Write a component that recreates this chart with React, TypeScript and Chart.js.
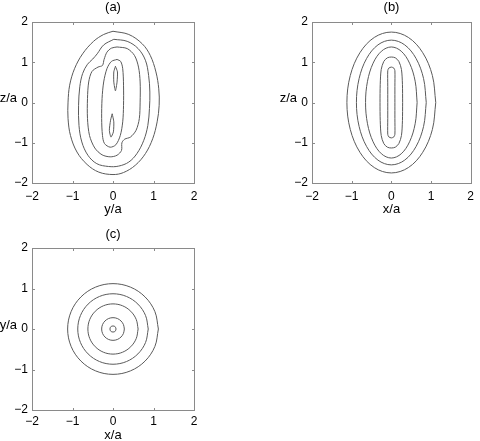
import React, { useEffect, useRef } from 'react';
import { Chart, registerables } from 'chart.js';

Chart.register(...registerables);

type P = [number, number][];

// ---- axes ----
const TICK_VALUES = [-2, -1, 0, 1, 2];
const TICK_LABELS = ['\u22122', '\u22121', '0', '1', '2'];
const PANEL_TITLES = ['(a)', '(b)', '(c)'];
const X_LABELS = ['y/a', 'x/a', 'x/a'];
const Y_LABELS = ['z/a', 'z/a', 'y/a'];

// ---- panel (a): contours in the y-z plane ----
const A1: P = [
  [0, 1.77], [0.39, 1.69], [0.72, 1.46], [0.92, 1.17], [1.06, 0.76], [1.13, 0.34], [1.14, -0.07],
  [1.09, -0.48], [0.98, -0.9], [0.8, -1.27], [0.55, -1.56], [0.26, -1.74], [0, -1.79], [-0.35, -1.73],
  [-0.64, -1.54], [-0.89, -1.23], [-1.05, -0.82], [-1.11, -0.4], [-1.11, 0.01], [-1.07, 0.43],
  [-0.95, 0.84], [-0.75, 1.21], [-0.48, 1.52], [-0.23, 1.69], [0, 1.77],
];
const A2: P = [
  [0.02, 1.57], [0.35, 1.52], [0.62, 1.34], [0.8, 1.05], [0.88, 0.67], [0.91, 0.26], [0.9, -0.15],
  [0.86, -0.57], [0.76, -0.94], [0.59, -1.27], [0.39, -1.48], [0.14, -1.58], [-0.11, -1.59],
  [-0.4, -1.52], [-0.62, -1.31], [-0.77, -0.98], [-0.84, -0.57], [-0.85, -0.07], [-0.82, 0.39],
  [-0.75, 0.72], [-0.63, 0.95], [-0.5, 1.08], [-0.39, 1.21], [-0.23, 1.43], [0.02, 1.57],
];
const A3: P = [
  [0.1, 1.38], [0.35, 1.34], [0.53, 1.17], [0.63, 0.88], [0.67, 0.51], [0.67, 0.01], [0.65, -0.4],
  [0.57, -0.69], [0.43, -0.86], [0.29, -0.91], [0.22, -1.0], [0.21, -1.19], [0.1, -1.31], [-0.07, -1.35],
  [-0.27, -1.3], [-0.45, -1.13], [-0.58, -0.82], [-0.63, -0.4], [-0.63, 0.1], [-0.6, 0.51],
  [-0.52, 0.77], [-0.37, 0.88], [-0.26, 0.92], [-0.22, 1.07], [-0.15, 1.25], [-0.04, 1.35], [0.1, 1.38],
];
const A4: P = [
  [0.1, 1.07], [0.19, 1.02], [0.24, 0.84], [0.26, 0.43], [0.26, -0.07], [0.24, -0.48], [0.18, -0.82],
  [0.07, -1.05], [-0.07, -1.11], [-0.21, -1.02], [-0.26, -0.82], [-0.28, -0.4], [-0.27, 0.1],
  [-0.23, 0.51], [-0.15, 0.84], [-0.04, 1.02], [0.1, 1.07],
];
const A5: P = [[0.06, 0.9], [0.11, 0.76], [0.1, 0.51], [0.06, 0.29], [0.02, 0.51], [0.02, 0.76], [0.06, 0.9]];
const A6: P = [[-0.02, -0.28], [0.02, -0.48], [0.01, -0.73], [-0.05, -0.86], [-0.09, -0.69], [-0.06, -0.44], [-0.02, -0.28]];

// ---- panel (b): contours in the x-z plane ----
const B1: P = [
  [1.12, 0], [1.035, 0.67], [0.792, 1.237], [0.429, 1.617], [0, 1.75], [-0.429, 1.617], [-0.792, 1.237],
  [-1.035, 0.67], [-1.12, 0], [-1.035, -0.67], [-0.792, -1.237], [-0.429, -1.617], [0, -1.75],
  [0.429, -1.617], [0.792, -1.237], [1.035, -0.67], [1.12, 0],
];
const B2: P = [
  [0.88, 0], [0.813, 0.593], [0.622, 1.096], [0.337, 1.432], [0, 1.55], [-0.337, 1.432], [-0.622, 1.096],
  [-0.813, 0.593], [-0.88, 0], [-0.813, -0.593], [-0.622, -1.096], [-0.337, -1.432], [0, -1.55],
  [0.337, -1.432], [0.622, -1.096], [0.813, -0.593], [0.88, 0],
];
const B3: P = [
  [0.65, 0], [0.601, 0.528], [0.46, 0.976], [0.249, 1.275], [0, 1.38], [-0.249, 1.275], [-0.46, 0.976],
  [-0.601, 0.528], [-0.65, 0], [-0.601, -0.528], [-0.46, -0.976], [-0.249, -1.275], [0, -1.38],
  [0.249, -1.275], [0.46, -0.976], [0.601, -0.528], [0.65, 0],
];
const B4: P = [
  [0.285, 0], [0.28, 0.45], [0.255, 0.82], [0.19, 1.02], [0.1, 1.11], [0, 1.13], [-0.1, 1.11],
  [-0.19, 1.02], [-0.255, 0.82], [-0.28, 0.45], [-0.285, 0], [-0.28, -0.45], [-0.255, -0.82],
  [-0.19, -1.02], [-0.1, -1.11], [0, -1.13], [0.1, -1.11], [0.19, -1.02], [0.255, -0.82],
  [0.28, -0.45], [0.285, 0],
];
const B5: P = [
  [0.09, 0], [0.09, 0.4], [0.09, 0.79], [0.064, 0.854], [0, 0.88], [-0.064, 0.854], [-0.09, 0.79],
  [-0.09, 0.4], [-0.09, 0], [-0.09, -0.4], [-0.09, -0.79], [-0.064, -0.854], [0, -0.88],
  [0.064, -0.854], [0.09, -0.79], [0.09, -0.4], [0.09, 0],
];

// ---- panel (c): contours in the x-y plane ----
const C1: P = [
  [1.12, 0], [1.035, 0.429], [0.792, 0.792], [0.429, 1.035], [0, 1.12], [-0.429, 1.035], [-0.792, 0.792],
  [-1.035, 0.429], [-1.12, 0], [-1.035, -0.429], [-0.792, -0.792], [-0.429, -1.035], [0, -1.12],
  [0.429, -1.035], [0.792, -0.792], [1.035, -0.429], [1.12, 0],
];
const C2: P = [
  [0.87, 0], [0.804, 0.333], [0.615, 0.615], [0.333, 0.804], [0, 0.87], [-0.333, 0.804], [-0.615, 0.615],
  [-0.804, 0.333], [-0.87, 0], [-0.804, -0.333], [-0.615, -0.615], [-0.333, -0.804], [0, -0.87],
  [0.333, -0.804], [0.615, -0.615], [0.804, -0.333], [0.87, 0],
];
const C3: P = [
  [0.62, 0], [0.573, 0.237], [0.438, 0.438], [0.237, 0.573], [0, 0.62], [-0.237, 0.573], [-0.438, 0.438],
  [-0.573, 0.237], [-0.62, 0], [-0.573, -0.237], [-0.438, -0.438], [-0.237, -0.573], [0, -0.62],
  [0.237, -0.573], [0.438, -0.438], [0.573, -0.237], [0.62, 0],
];
const C4: P = [
  [0.28, 0], [0.259, 0.107], [0.198, 0.198], [0.107, 0.259], [0, 0.28], [-0.107, 0.259], [-0.198, 0.198],
  [-0.259, 0.107], [-0.28, 0], [-0.259, -0.107], [-0.198, -0.198], [-0.107, -0.259], [0, -0.28],
  [0.107, -0.259], [0.198, -0.198], [0.259, -0.107], [0.28, 0],
];
const C5: P = [
  [0.075, 0], [0.055, 0.055], [0, 0.075], [-0.055, 0.055], [-0.075, 0], [-0.055, -0.055], [0, -0.075],
  [0.055, -0.055], [0.075, 0],
];

const LINE_COLOR = '#5a5a5a';
const FRAME_COLOR = '#8a8a8a';
const FONT = '"Liberation Sans", Arial, Helvetica, sans-serif';

type Layout = {
  left: number; top: number; width: number; height: number;
  padTop: number; padRight: number; yWidth: number; xHeight: number;
  xTickPad: number; titleGap: number; xLabelGap: number;
};

const LAYOUTS: Layout[] = [
  { left: 0, top: 0, width: 240, height: 220, padTop: 22, padRight: 46, yWidth: 32, xHeight: 37, xTickPad: 6, titleGap: 11, xLabelGap: 30 },
  { left: 240, top: 0, width: 240, height: 220, padTop: 22, padRight: 5, yWidth: 72, xHeight: 37, xTickPad: 6, titleGap: 11, xLabelGap: 30 },
  { left: 0, top: 220, width: 240, height: 221, padTop: 28, padRight: 46, yWidth: 32, xHeight: 31, xTickPad: 4, titleGap: 10.5, xLabelGap: 29 },
];

const PANELS: { contours: P[]; tension: number[] }[] = [
  { contours: [A1, A2, A3, A4, A5, A6], tension: [0.35, 0.35, 0.3, 0.3, 0.2, 0.2] },
  { contours: [B1, B2, B3, B4, B5], tension: [0.35, 0.35, 0.35, 0.3, 0.25] },
  { contours: [C1, C2, C3, C4, C5], tension: [0.35, 0.35, 0.35, 0.35, 0.35] },
];

function Panel({ index }: { index: number }) {
  const ref = useRef<HTMLCanvasElement | null>(null);
  const lay = LAYOUTS[index];
  useEffect(() => {
    if (!ref.current) return;
    const panel = PANELS[index];
    const framePlugin = {
      id: 'frame' + index,
      afterDraw(chart: any) {
        const { ctx, chartArea } = chart;
        const xs = chart.scales.x;
        const ys = chart.scales.y;
        const L = Math.round(chartArea.left);
        const T = Math.round(chartArea.top);
        const R = Math.round(chartArea.right);
        const B = Math.round(chartArea.bottom);
        ctx.save();
        ctx.strokeStyle = FRAME_COLOR;
        ctx.lineWidth = 1;
        ctx.strokeRect(L + 0.5, T + 0.5, R - L, B - T);
        ctx.beginPath();
        TICK_VALUES.slice(1, -1).forEach((v) => {
          const px = Math.round(xs.getPixelForValue(v)) + 0.5;
          ctx.moveTo(px, B + 0.5); ctx.lineTo(px, B - 2);
          ctx.moveTo(px, T + 0.5); ctx.lineTo(px, T + 3);
          const py = Math.round(ys.getPixelForValue(v)) + 0.5;
          ctx.moveTo(L + 0.5, py); ctx.lineTo(L + 3, py);
          ctx.moveTo(R + 0.5, py); ctx.lineTo(R - 2, py);
        });
        ctx.stroke();
        ctx.fillStyle = '#000';
        ctx.font = '13px ' + FONT;
        ctx.textBaseline = 'alphabetic';
        ctx.textAlign = 'center';
        const cx = (L + R) / 2;
        ctx.fillText(PANEL_TITLES[index], cx, T - lay.titleGap);
        ctx.fillText(X_LABELS[index], cx, B + lay.xLabelGap);
        ctx.textAlign = 'right';
        ctx.fillText(Y_LABELS[index], L - 15, ys.getPixelForValue(0) - 0.5);
        ctx.restore();
      },
    };
    const tickCallback = (_v: any, i: number) => TICK_LABELS[i];
    const chart = new Chart(ref.current, {
      type: 'scatter',
      data: {
        datasets: panel.contours.map((c, i) => ({
          data: c.map(([x, y]) => ({ x, y })),
          showLine: true,
          pointRadius: 0,
          borderColor: LINE_COLOR,
          borderWidth: 1,
          tension: panel.tension[i],
          fill: false,
        })),
      },
      options: {
        animation: false,
        responsive: false,
        events: [],
        layout: { padding: { top: lay.padTop, right: lay.padRight, left: 0, bottom: 0 } },
        plugins: { legend: { display: false }, tooltip: { enabled: false }, title: { display: false } },
        scales: {
          x: {
            type: 'linear', min: -2, max: 2,
            afterBuildTicks: (s: any) => { s.ticks = TICK_VALUES.map((v) => ({ value: v })); },
            afterFit: (s: any) => { s.height = lay.xHeight; },
            grid: { display: false, drawTicks: false },
            border: { display: false },
            ticks: { callback: tickCallback, color: '#000', padding: lay.xTickPad, maxRotation: 0, autoSkip: false, font: { family: FONT, size: 12 } },
          },
          y: {
            type: 'linear', min: -2, max: 2,
            afterBuildTicks: (s: any) => { s.ticks = TICK_VALUES.map((v) => ({ value: v })); },
            afterFit: (s: any) => { s.width = lay.yWidth; },
            grid: { display: false, drawTicks: false },
            border: { display: false },
            ticks: { callback: tickCallback, color: '#000', padding: 4, autoSkip: false, font: { family: FONT, size: 12 } },
          },
        },
      } as any,
      plugins: [framePlugin],
    });
    return () => chart.destroy();
  }, [index]);
  return (
    <canvas
      ref={ref}
      width={lay.width}
      height={lay.height}
      style={{ position: 'absolute', left: lay.left, top: lay.top, width: lay.width, height: lay.height }}
    />
  );
}

export default function App() {
  return (
    <div style={{ position: 'absolute', left: 0, top: 0, width: 480, height: 441, background: '#fff', overflow: 'hidden' }}>
      <Panel index={0} />
      <Panel index={1} />
      <Panel index={2} />
    </div>
  );
}
